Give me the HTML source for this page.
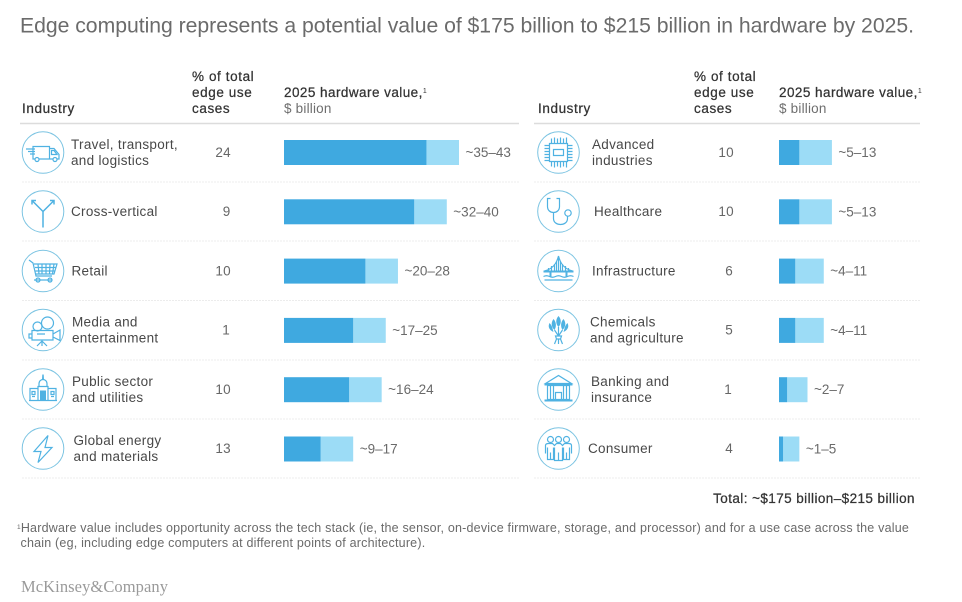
<!DOCTYPE html>
<html>
<head>
<meta charset="utf-8">
<title>Edge computing hardware value</title>
<style>
html,body{margin:0;padding:0;background:#fff;width:962px;height:602px;overflow:hidden}
svg{display:block}
text{font-family:"Liberation Sans",sans-serif;font-size:13.5px;fill:#4a4a4a}
.h{fill:#333;stroke:#333;stroke-width:.25px;letter-spacing:.6px}
.hv{letter-spacing:.45px}
.tot{letter-spacing:.42px}
.l{fill:#484848;letter-spacing:.3px}
.p{fill:#666;text-anchor:end;letter-spacing:.3px}
.v{fill:#6a6a6a;letter-spacing:0}
.sub{fill:#6e6e6e;letter-spacing:.2px}
.sep{stroke:#ececec;stroke-width:1;stroke-dasharray:2 1}
.top{stroke:#dcdcdc;stroke-width:1.5}
.c{fill:none;stroke:#7cc4e2;stroke-width:1}
.i{fill:none;stroke:#4fb2e2;stroke-width:1.2}
.f{fill:#4fb2e2;stroke:none}
.note{font-size:12.5px;fill:#6a6a6a;letter-spacing:.2px}
</style>
</head>
<body>
<svg id="chart" width="962" height="602" viewBox="0 0 962 602" xmlns="http://www.w3.org/2000/svg">
<text x="20" y="32.5" textLength="894" lengthAdjust="spacing" style="font-size:21.2px;fill:#6b6b6b">Edge computing represents a potential value of $175 billion to $215 billion in hardware by 2025.</text>

<g>
<text class="h" x="22" y="113">Industry</text>
<text class="h" x="192" y="81">% of total</text>
<text class="h" x="192" y="97">edge use</text>
<text class="h" x="192" y="113">cases</text>
<text class="h hv" x="284" y="97">2025 hardware value,<tspan dy="-4" style="font-size:7px;stroke-width:0">1</tspan></text>
<text class="sub" x="284" y="113">$ billion</text>
<line class="top" x1="20" x2="519" y1="123.5" y2="123.5"/>
</g>
<g>
<text class="h" x="538" y="113">Industry</text>
<text class="h" x="694" y="81">% of total</text>
<text class="h" x="694" y="97">edge use</text>
<text class="h" x="694" y="113">cases</text>
<text class="h hv" x="779" y="97">2025 hardware value,<tspan dy="-4" style="font-size:7px;stroke-width:0">1</tspan></text>
<text class="sub" x="779" y="113">$ billion</text>
<line class="top" x1="534" x2="920" y1="123.5" y2="123.5"/>
</g>

<g>
<line class="sep" x1="22" x2="519" y1="182" y2="182"/><line class="sep" x1="22" x2="519" y1="241" y2="241"/><line class="sep" x1="22" x2="519" y1="300.5" y2="300.5"/><line class="sep" x1="22" x2="519" y1="360" y2="360"/><line class="sep" x1="22" x2="519" y1="419" y2="419"/><line class="sep" x1="22" x2="519" y1="478" y2="478"/>
<line class="sep" x1="534" x2="920" y1="182" y2="182"/><line class="sep" x1="534" x2="920" y1="241" y2="241"/><line class="sep" x1="534" x2="920" y1="300.5" y2="300.5"/><line class="sep" x1="534" x2="920" y1="360" y2="360"/><line class="sep" x1="534" x2="920" y1="419" y2="419"/><line class="sep" x1="534" x2="920" y1="478" y2="478"/>
</g>

<!-- LEFT ICONS -->
<g transform="translate(43 152.5)"><circle class="c" r="20.8"/>
<path class="i" d="M-10 -6H6.500V6.500H-10ZM6.500 -4H11L16 2V6.500H6.500M8.500 -2H11L14 2H8.500ZM-17 -3.500H-8M-15 -1H-8M-13 1.500H-8"/><circle class="i" cx="-6" cy="7" r="2" style="fill:#fff"/><circle class="i" cx="12" cy="7" r="2" style="fill:#fff"/></g>
<g transform="translate(43 211.5)"><circle class="c" r="20.8"/>
<path class="i" style="stroke-width:1.500" d="M0 16V0L-11 -11M0 0L11 -11M-11 -7V-11H-7M7 -11H11V-7"/></g>
<g transform="translate(43 271)"><circle class="c" r="20.800"/>
<path class="i" d="M-14 -11L-10 -8L-7 5H9M-9 -7H14L11 3H-7M-8 -3.500H13M-7.500 0H12M-5 -7L-4 3M-1 -7V3M3 -7V3M7 -7L6.500 3M11 -7L9.500 3M-9 9H9"/><circle class="i" cx="-5" cy="9" r="2"/><circle class="i" cx="7" cy="9" r="2"/></g>
<g transform="translate(43 330)"><circle class="c" r="20.800"/>
<path class="i" d="M-11 0.500H10V10H-11ZM10 4L17 0V10.500L10 7M-11 4H-14V8H-11M-6 4H2M-1 10V16M-1 11L-6 16M-1 11L4 16"/><circle class="i" cx="-5.500" cy="-3.500" r="4.500"/><circle class="i" cx="4.500" cy="-7" r="6"/></g>
<g transform="translate(43 389.500)"><circle class="c" r="20.800"/>
<path class="i" d="M-13 -1H-5V11H-13ZM5 -1H13V11H5ZM-5 -3H5V11H-5ZM-4 -3V-6A4 4 0 0 1 4 -6V-3M-14 11H14M-11 2H-8V5H-11ZM8 2H11V5H8ZM-11 7H-8M8 7H11"/><path class="f" d="M-.7 -15H.7L1 -10H-1ZM-3 1H3V11H-3Z"/></g>
<g transform="translate(43 448.500)"><circle class="c" r="20.800"/>
<path class="i" d="M5 -13L-9 3H-2L-5 14L9 -1H2Z"/></g>

<!-- RIGHT ICONS -->
<g transform="translate(558.500 152.500)"><circle class="c" r="20.800"/>
<path class="i" d="M-9 -9H9V9H-9ZM-5 -3H5V3H-5ZM-7 -14V-9M-4 -15V-9M-1 -14V-9M2 -15V-9M5 -14V-9M8 -15V-9M-7 14V9M-4 15V9M-1 14V9M2 15V9M5 14V9M8 15V9M-14 -7H-9M-14 -4H-9M-14 -1H-9M-14 2H-9M-14 5H-9M-14 8H-9M14 -7H9M14 -4H9M14 -1H9M14 2H9M14 5H9M14 8H9"/></g>
<g transform="translate(558.500 211.500)"><circle class="c" r="20.800"/>
<path class="i" d="M-8 -13H-11V-5C-11 3 1 3 1 -5V-13H-2M-5 1V7C-5 15 9 15 9 7V5"/><circle class="i" cx="9.500" cy="1.500" r="3.200"/></g>
<g transform="translate(558.500 271)"><circle class="c" r="20.800"/>
<path class="i" d="M-14 0C-6 -2 -2 -7 0 -15C2 -7 6 -2 14 0M-10 0V-3M-7 0V-5M-4 0V-7M-2 0V-10M0 0V-15M2 0V-10M4 0V-7M7 0V-5M10 0V-3"/><path class="f" d="M-15 -.500H15V1.500H-15ZM-9 1H-7V6H-9ZM7 1H9V6H7Z"/><path class="i" d="M-15 5.500Q-12 4 -9 5.500T-3 5.500T3 5.500T9 5.500T15 5.500M-14 9H14"/></g>
<g transform="translate(558.500 330)"><circle class="c" r="20.800"/>
<path class="f" d="M0 -14C3 -11 3 -6 0 -3C-3 -6 -3 -11 0 -14ZM-5 -11C-2 -8 -2 -3 -4 0C-7 -3 -8 -7 -5 -11ZM5 -11C8 -7 7 -3 4 0C2 -3 2 -8 5 -11ZM-9 -7C-6 -4 -6 -1 -5 2C-9 0 -11 -3 -9 -7ZM9 -7C11 -3 9 0 5 2C6 -1 6 -4 9 -7Z"/><path class="i" d="M0 -3V6M-4 0L0 6M4 0L0 6M-3 6H3L2 9H-2ZM-2 9L-4 14M2 9L4 14M0 9V14"/></g>
<g transform="translate(558.500 389.500)"><circle class="c" r="20.800"/>
<path class="i" d="M-13 -6L0 -14L13 -6ZM-11 -4H11V10H-11ZM-8 -4V10M-5 -4V10M5 -4V10M8 -4V10M-3 10V3H3V10"/><path class="f" d="M-14 -6H14V-4H-14ZM-14 10H14V12H-14Z"/></g>
<g transform="translate(558.500 448.500)"><circle class="c" r="20.800"/>
<circle class="i" cx="-8" cy="-9" r="3"/><circle class="i" cx="0" cy="-9" r="3"/><circle class="i" cx="8" cy="-9" r="3"/>
<path class="i" d="M-13 5V-3Q-13 -5 -10 -5H-6L-4 -3L-2 -5H2L4 -3L6 -5H10Q13 -5 13 -3V5M-11 -1V11H-5V-1M-4 -1V12H4V-1M5 -1V11H11V-1M0 4V12M-8 4V11M8 4V11"/></g>

<!-- LEFT LABELS -->
<g>
<text class="l" x="71" y="149">Travel, transport,</text><text class="l" x="71" y="165">and logistics</text>
<text class="l" x="71" y="216">Cross-vertical</text>
<text class="l" x="71.500" y="275.500">Retail</text>
<text class="l" x="72" y="326.500">Media and</text><text class="l" x="72" y="342.500">entertainment</text>
<text class="l" x="72" y="386">Public sector</text><text class="l" x="72" y="402">and utilities</text>
<text class="l" x="73.500" y="445">Global energy</text><text class="l" x="73.500" y="461">and materials</text>
</g>
<g>
<text class="p" x="231" y="157">24</text><text class="p" x="230.500" y="216">9</text><text class="p" x="231" y="275.500">10</text><text class="p" x="230" y="334.500">1</text><text class="p" x="231" y="394">10</text><text class="p" x="231" y="453">13</text>
</g>

<!-- RIGHT LABELS -->
<g>
<text class="l" x="592" y="149">Advanced</text><text class="l" x="592" y="165">industries</text>
<text class="l" x="594" y="216">Healthcare</text>
<text class="l" x="592" y="275.500">Infrastructure</text>
<text class="l" x="590" y="326.500">Chemicals</text><text class="l" x="590" y="342.500">and agriculture</text>
<text class="l" x="591" y="386">Banking and</text><text class="l" x="591" y="402">insurance</text>
<text class="l" x="588" y="453">Consumer</text>
</g>
<g>
<text class="p" x="734" y="157">10</text><text class="p" x="734" y="216">10</text><text class="p" x="733" y="275.500">6</text><text class="p" x="733" y="334.500">5</text><text class="p" x="732" y="394">1</text><text class="p" x="733" y="453">4</text>
</g>

<g id="bars"></g>

<text class="h tot" x="915" y="503" text-anchor="end">Total: ~$175 billion–$215 billion</text>
<text class="note" x="17" y="532"><tspan dy="-3" style="font-size:6.500px">1</tspan><tspan dy="3">Hardware value includes opportunity across the tech stack (ie, the sensor, on-device firmware, storage, and processor) and for a use case across the value</tspan></text>
<text class="note" x="20.500" y="547">chain (eg, including edge computers at different points of architecture).</text>
<text x="21" y="592" textLength="147" lengthAdjust="spacing" style="font-family:'Liberation Serif',serif;font-size:16.500px;fill:#9a9a9a">McKinsey&amp;Company</text>
</svg>
<script>
var leftIndustries = ['travel', 'cross-vertical', 'retail', 'media', 'public-sector', 'energy'];
var leftLow = [35, 32, 20, 17, 16, 9];
var leftHigh = [43, 40, 28, 25, 24, 17];
var rightIndustries = ['advanced-industries', 'healthcare', 'infrastructure', 'chemicals', 'banking', 'consumer'];
var rightLow = [5, 5, 4, 4, 2, 1];
var rightHigh = [13, 13, 11, 11, 7, 5];

var NS = 'http://www.w3.org/2000/svg';
var PX_PER_BILLION = 4.07;
var BAR_HEIGHT = 25;
var root = document.getElementById('bars');

function xScale(origin, value) { return origin + value * PX_PER_BILLION; }
function yScale(index) { return 152.5 + index * 59.3; }

function addRect(x, y, w, fill, name) {
  var r = document.createElementNS(NS, 'rect');
  r.setAttribute('x', x);
  r.setAttribute('y', y);
  r.setAttribute('width', w);
  r.setAttribute('height', BAR_HEIGHT);
  r.setAttribute('fill', fill);
  
  
  root.appendChild(r);
}

function drawSide(origin, names, low, high) {
  for (var i = 0; i < names.length; i++) {
    var cy = yScale(i);
    var top = cy - BAR_HEIGHT / 2;
    addRect(xScale(origin, low[i]), top, (high[i] - low[i]) * PX_PER_BILLION, '#9cdcf6', 'bar-high-' + names[i]);
    addRect(origin, top, low[i] * PX_PER_BILLION, '#3fa9e0', 'bar-low-' + names[i]);
    var t = document.createElementNS(NS, 'text');
    t.setAttribute('class', 'v');
    t.setAttribute('x', xScale(origin, high[i]) + 6.5);
    t.setAttribute('y', cy + 4.5);
    t.textContent = '~' + low[i] + '–' + high[i];
    
    
    root.appendChild(t);
  }
}

drawSide(284, leftIndustries, leftLow, leftHigh);
drawSide(779, rightIndustries, rightLow, rightHigh);
</script>
</body>
</html>
